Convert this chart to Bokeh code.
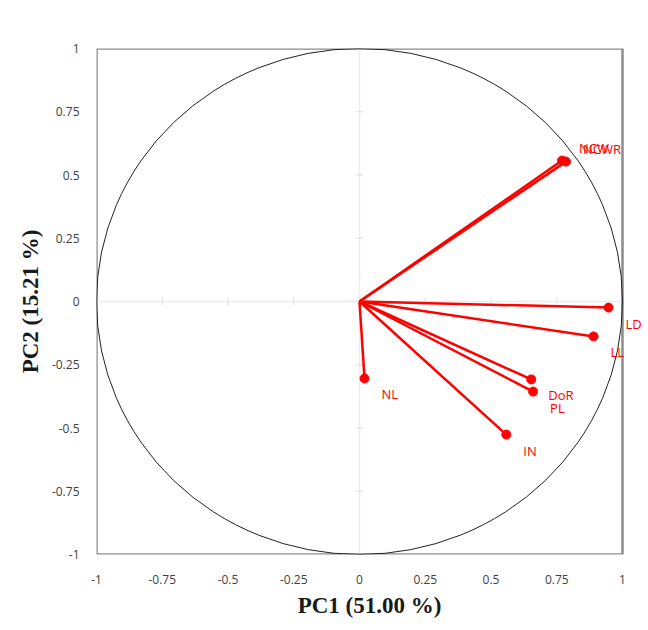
import math
from bokeh.plotting import figure
from bokeh.models import Range1d, FixedTicker, ColumnDataSource
from bokeh.core.properties import value
from bokeh.embed import file_html
from bokeh.resources import INLINE

# data
variables = ["NCW", "NCWR", "LD", "LL", "DoR", "PL", "IN", "NL"]
pc1 = [0.770, 0.785, 0.947, 0.890, 0.653, 0.660, 0.558, 0.019]
pc2 = [0.557, 0.553, -0.024, -0.138, -0.308, -0.356, -0.526, -0.304]
tick_values = [-1, -0.75, -0.5, -0.25, 0, 0.25, 0.5, 0.75, 1]
tick_labels = ["-1", "-0.75", "-0.5", "-0.25", "0", "0.25", "0.5", "0.75", "1"]

# labels above-right for upper points, below-right otherwise
label_dy = [-13 if y > 0.3 else 16 for y in pc2]
src = ColumnDataSource(dict(x=pc1, y=pc2, name=variables, dy=label_dy,
                            x0=[0] * len(pc1), y0=[0] * len(pc1)))

lo, hi = tick_values[0], tick_values[-1]

p = figure(width=643, height=622, output_backend="svg", toolbar_location=None,
           x_range=Range1d(lo, 1.076), y_range=Range1d(lo, hi),
           min_border_left=96, min_border_right=1, min_border_top=48, min_border_bottom=68)
p.xgrid.visible = False
p.ygrid.visible = False
p.outline_line_color = None

for ax in (p.xaxis[0], p.yaxis[0]):
    ax.ticker = FixedTicker(ticks=tick_values)
    ax.major_label_overrides = {v: s for v, s in zip(tick_values, tick_labels)}
    ax.axis_line_color = None
    ax.major_tick_line_color = None
    ax.minor_tick_line_color = None
    ax.major_label_text_font = "Open Sans"
    ax.major_label_text_font_size = "12px"
    ax.major_label_text_color = "#404040"
    ax.axis_label_text_font = "Liberation Serif"
    ax.axis_label_text_font_style = "bold"
    ax.axis_label_text_font_size = "23px"
    ax.axis_label_text_color = "#1a1a1a"

p.xaxis.major_label_standoff = 14
p.yaxis.major_label_standoff = 11
p.xaxis.axis_label = "PC1 (51.00 %)"
p.yaxis.axis_label = "PC2 (15.21 %)"
p.xaxis.axis_label_standoff = 6
p.yaxis.axis_label_standoff = 6

# light zero axes with cross ticks
p.segment(x0=[lo, 0], y0=[0, lo], x1=[hi, 0], y1=[0, hi], line_color="#ececec", line_width=1.5)
p.scatter(x=tick_values, y=[0] * len(tick_values), marker="dash", size=7, angle=math.pi / 2,
          line_color="#e6e6e6", line_width=1.5)
p.scatter(x=[0] * len(tick_values), y=tick_values, marker="dash", size=7,
          line_color="#e6e6e6", line_width=1.5)

# plot box
p.quad(left=lo, right=hi, bottom=lo, top=hi, fill_color=None, line_color="#8c8c8c", line_width=2.5)

p.ellipse(x=0, y=0, width=2, height=2, fill_color=None, line_color="#222222", line_width=1)

p.segment(x0="x0", y0="y0", x1="x", y1="y", source=src, line_color="#ff0000", line_width=2.5)
p.scatter(x="x", y="y", source=src, size=9, fill_color="#ff0000", line_color="#ff0000")
p.text(x="x", y="y", text="name", source=src, x_offset=17, y_offset="dy",
       text_font=value("Open Sans"), text_font_size="13px", text_color="#ff0000",
       text_baseline="middle", text_align="left")

open("out.html", "w").write(file_html(p, INLINE))
